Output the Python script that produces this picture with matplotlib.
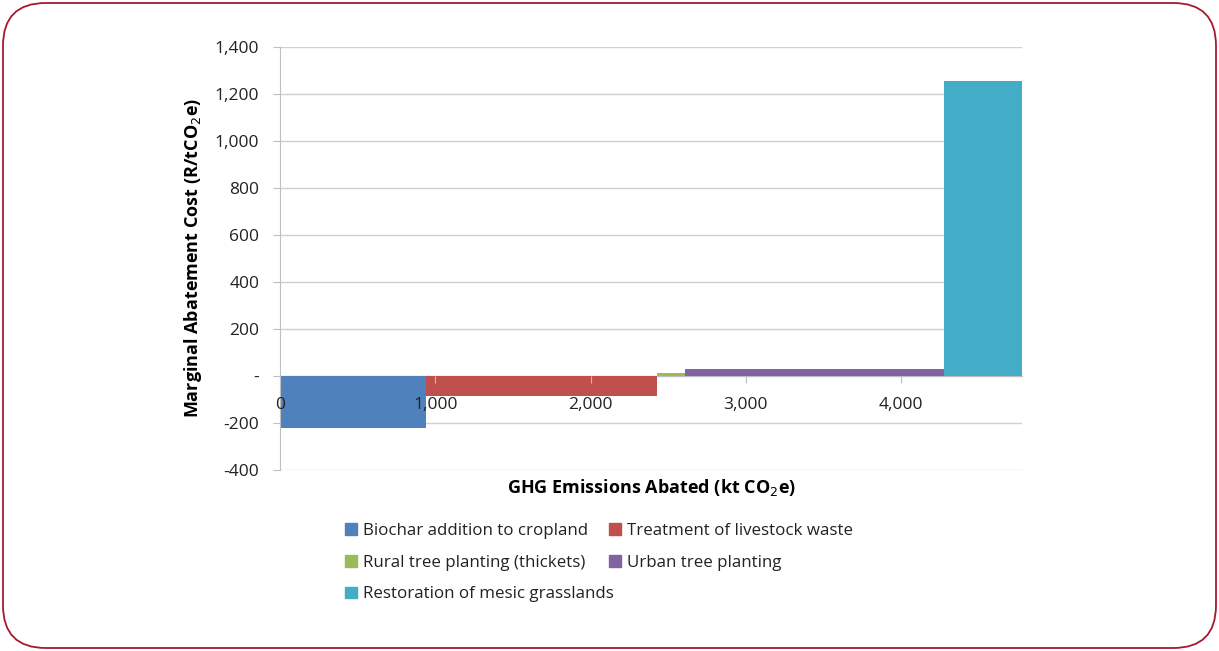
import matplotlib
matplotlib.use("Agg")
import matplotlib.pyplot as plt
from matplotlib.patches import FancyBboxPatch, Patch
from matplotlib.ticker import FuncFormatter

plt.rcParams['font.family'] = ['Open Sans', 'DejaVu Sans']

# abatement options (kt CO2e abated, R/tCO2e)
options = ["Biochar addition to cropland", "Treatment of livestock waste",
           "Rural tree planting (thickets)", "Urban tree planting",
           "Restoration of mesic grasslands"]
abated = [940, 1488, 179, 1669, 502]
cost = [-220, -85, 13, 30, 1255]
colors = ["#4F81BD", "#C0504D", "#9BBB59", "#8064A2", "#43ADC7"]

x_ticks = [0, 1000, 2000, 3000, 4000]
y_ticks = list(range(-400, 1401, 200))

fig = plt.figure(figsize=(12.19, 6.51), dpi=100)

# rounded frame around the whole figure
frame = FancyBboxPatch((3 / 1219, 3 / 651), 1213 / 1219, 645 / 651,
                       boxstyle="round,pad=0,rounding_size=0.035",
                       transform=fig.transFigure, fill=False,
                       edgecolor="#A31A2E", linewidth=1.3,
                       mutation_aspect=1219 / 651)
fig.patches.append(frame)

ax = fig.add_axes([280 / 1219, 1 - 470 / 651, 742 / 1219, 423 / 651])

# gridlines under the bars
for y in y_ticks:
    ax.axhline(y, color="#D0D0D0", linewidth=1, zorder=0)

starts = [sum(abated[:i]) for i in range(len(abated))]
for s, w, c, col, name in zip(starts, abated, cost, colors, options):
    ax.bar(s, c, width=w, align='edge', color=col, label=name, zorder=2)

ax.set_xlim(0, sum(abated))
ax.set_ylim(-400, 1400)
ax.set_yticks(y_ticks)
ax.yaxis.set_major_formatter(FuncFormatter(lambda v, p: "-" if v == 0 else f"{int(v):,}"))
ax.set_xticks(x_ticks)
ax.xaxis.set_major_formatter(FuncFormatter(lambda v, p: f"{int(v):,}"))

for sp in ["top", "right"]:
    ax.spines[sp].set_visible(False)
ax.spines["bottom"].set_position(("data", 0))
ax.spines["bottom"].set_color("#BFBFBF")
ax.spines["bottom"].set_zorder(1)
ax.spines["left"].set_color("#BFBFBF")
ax.tick_params(axis='x', colors="#BFBFBF", labelcolor="#222222", labelsize=12.5,
               length=5, pad=10)
ax.tick_params(axis='y', colors="#BFBFBF", labelcolor="#222222", labelsize=12.5,
               length=5, pad=10)
ax.xaxis.set_zorder(5)  # tick labels sit on top of the bars

fig.text(193 / 1219, 1 - 258 / 651, "Marginal Abatement Cost (R/tCO$_2$e)",
         rotation=90, ha='center', va='center', fontsize=13, fontweight='bold')
fig.text(652 / 1219, 1 - 488 / 651, "GHG Emissions Abated (kt CO$_2$e)",
         ha='center', va='center', fontsize=13, fontweight='bold')

# legend in two columns, laid out row-wise like the original
handles = [Patch(color=c) for c in colors]
leg_kw = dict(loc='upper left', frameon=False, fontsize=12.2, handlelength=0.7,
              handleheight=0.7, handletextpad=0.35, labelspacing=0.92,
              labelcolor="#222222")
fig.legend([handles[i] for i in (0, 2, 4)], [options[i] for i in (0, 2, 4)],
           bbox_to_anchor=(330 / 1219, 1 - 508 / 651), **leg_kw)
fig.legend([handles[i] for i in (1, 3)], [options[i] for i in (1, 3)],
           bbox_to_anchor=(594 / 1219, 1 - 508 / 651), **leg_kw)

fig.savefig("out.png", dpi=100)
